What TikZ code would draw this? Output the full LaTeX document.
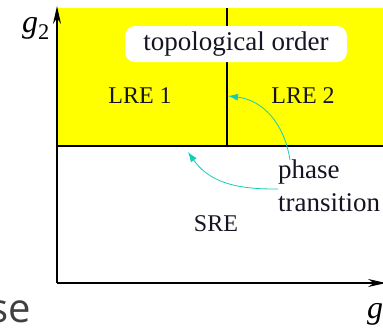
\documentclass[tikz,border=0pt]{standalone}
\usepackage{fontspec}
\setmainfont{Liberation Serif}
\newfontfamily\diagfont{Liberation Serif}
\newfontfamily\slidefont{Open Sans}
\usetikzlibrary{arrows.meta, positioning}

\definecolor{phaseyellow}{RGB}{255,255,0}
\definecolor{trcyan}{RGB}{20,205,185}
\definecolor{inkdark}{RGB}{20,20,35}

\tikzset{
  region/.style={font=\diagfont\fontsize{24}{29}\selectfont, text=inkdark, inner sep=0pt},
  trarrow/.style={draw=trcyan, line width=0.8pt, -{Latex[length=10pt,width=7pt]}},
  axis/.style={line width=1.4pt, -{Stealth[length=18pt,width=8pt]}}
}

\begin{document}
\begin{tikzpicture}[x=1pt, y=-1pt]
  \useasboundingbox (0,0) rectangle (383,333);
  % ordered phases
  \fill[phaseyellow] (57,8) rectangle (390,146);
  \draw[line width=1.2pt] (57,146) -- (390,146);
  \draw[line width=1.2pt] (227,8) -- (227,146);
  \node[fill=white, rounded corners=10pt, minimum width=222pt, minimum height=36pt,
        font=\diagfont\fontsize{27}{32}\selectfont, text=inkdark, inner sep=0pt]
       (topo) at (236,44) {topological order};
  \node[region] (lre1) at (140,96) {LRE 1};
  \node[region] (lre2) at (303,96) {LRE 2};
  \node[region] (sre) at (216,224) {SRE};
  % axes
  \draw[axis] (57,283) -- (57,6);
  \draw[axis] (57,283) -- (386,283);
  \node[font=\diagfont\fontsize{32}{38}\selectfont\itshape, anchor=south east, inner sep=0pt]
       (gtwo) at (50,40) {g\textsubscript{\upshape 2}};
  \node[font=\diagfont\fontsize{32}{38}\selectfont\itshape, anchor=base west, inner sep=0pt]
       (gone) at (367,318) {g\textsubscript{\upshape 1}};
  % transition lines
  \node[align=left, anchor=north west, inner sep=0pt, text=inkdark,
        font=\diagfont\fontsize{27}{32.4}\selectfont] (phase) at (278,160) {phase\\transition};
  \coordinate (tipa) at (228,96);
  \coordinate (tipb) at (188,152);
  \draw[trarrow] ([xshift=12pt]phase.north west) .. controls (284,122) and (262,100) .. (tipa);
  \draw[trarrow] ([yshift=-3pt]phase.west) .. controls (225,190) and (205,176) .. (tipb);
  % slide text cut off
  \node[font=\slidefont\fontsize{40}{48}\selectfont, text=black!75, anchor=base east, inner sep=0pt]
       (slide) at (31,322) {se};
\end{tikzpicture}
\end{document}
